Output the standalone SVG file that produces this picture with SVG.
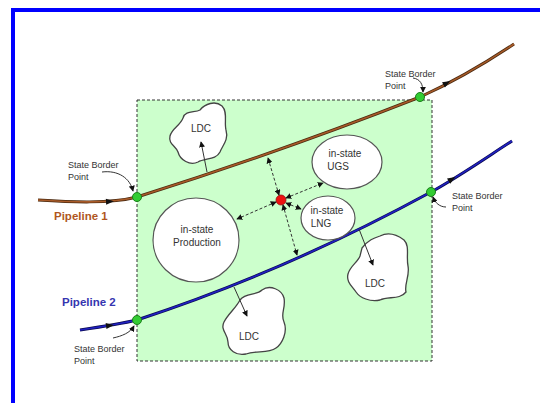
<svg xmlns="http://www.w3.org/2000/svg" width="540" height="403" viewBox="0 0 540 403">
<style>
.lbl{font-family:"Liberation Sans",Arial,sans-serif;font-size:9px;fill:#333}
.in{font-family:"Liberation Sans",Arial,sans-serif;font-size:10px;fill:#333;text-anchor:middle}
.ldc{fill:#fff;stroke:#444;stroke-width:1.3}
.ell{fill:#fff;stroke:#555;stroke-width:1.2}
.dash{fill:none;stroke:#333;stroke-width:1;stroke-dasharray:3,2;marker-start:url(#ah);marker-end:url(#ah)}
.sol{fill:none;stroke:#333;stroke-width:1;marker-end:url(#ah)}
.dot{fill:#33cc33;stroke:#1a801a;stroke-width:1}
.pa{fill:#111}
</style>
<defs>
<marker id="ah" viewBox="0 0 8 8" refX="7" refY="4" markerWidth="6" markerHeight="6" orient="auto-start-reverse" markerUnits="userSpaceOnUse">
<path d="M0,0 L8,4 L0,8 Z" fill="#111"/>
</marker>
</defs>
<rect x="0" y="0" width="540" height="403" fill="#fff"/>
<rect x="13" y="10" width="600" height="500" fill="none" stroke="#0000ff" stroke-width="4"/>
<g id="state">
<rect x="137" y="100" width="295" height="261" fill="#ccffcc" stroke="#333" stroke-width="1" stroke-dasharray="3,2"/>
</g>
<g id="pipeline1">
<path d="M38,200 C70,202 110,204 137,197 Q280,152 420,97 C460,79 490,60 514,44" fill="none" stroke="#4a2a10" stroke-width="3"/>
<path d="M38,200 C70,202 110,204 137,197 Q280,152 420,97 C460,79 490,60 514,44" fill="none" stroke="#a85a28" stroke-width="1.6"/>
<polygon class="pa" points="-4,-3 4,0 -4,3" transform="translate(110,201.5) rotate(-3)"/>
<polygon class="pa" points="-4,-3 4,0 -4,3" transform="translate(447,83) rotate(-28)"/>
<text x="54" y="220" font-family="Liberation Sans,Arial,sans-serif" font-size="11.5" font-weight="bold" fill="#b0561e">Pipeline 1</text>
</g>
<g id="pipeline2">
<path d="M80,330 C100,327 120,324 137,320 Q284,272 431,192 C460,176 490,155 512,141" fill="none" stroke="#0a0a50" stroke-width="3"/>
<path d="M80,330 C100,327 120,324 137,320 Q284,272 431,192 C460,176 490,155 512,141" fill="none" stroke="#2020c0" stroke-width="1.6"/>
<polygon class="pa" points="-4,-3 4,0 -4,3" transform="translate(110,325.5) rotate(-8)"/>
<polygon class="pa" points="-4,-3 4,0 -4,3" transform="translate(452,179) rotate(-32)"/>
<text x="62" y="306" font-family="Liberation Sans,Arial,sans-serif" font-size="11.5" font-weight="bold" fill="#3535b0">Pipeline 2</text>
</g>
<g id="ldc1">
<path class="ldc" d="M183,118 C185,110 195,113 200,110 C205,104 215,100 222,106 C228,112 224,122 226,130 C229,140 222,146 220,152 C216,160 205,158 198,162 C190,166 180,160 178,152 C176,146 168,144 170,136 C172,128 180,126 183,118 Z"/>
<text class="in" x="201" y="132">LDC</text>
</g>
<g id="ldc2">
<path class="ldc" d="M362,248 C368,240 374,238 380,236 C388,232 396,234 404,240 C410,246 406,256 408,266 C410,276 404,284 406,292 C400,300 388,296 380,300 C370,302 360,298 356,292 C352,286 346,282 348,274 C350,266 358,262 360,256 Z"/>
<text class="in" x="375" y="287">LDC</text>
</g>
<g id="ldc3">
<path class="ldc" d="M240,300 C246,292 256,296 262,290 C270,284 282,290 284,298 C286,308 280,314 284,322 C288,332 282,344 276,348 C268,354 256,350 246,354 C236,356 228,350 228,342 C228,334 220,330 224,322 C228,314 236,308 240,300 Z"/>
<text class="in" x="249" y="340">LDC</text>
</g>
<g id="production">
<ellipse class="ell" cx="196" cy="240" rx="43" ry="42"/>
<text class="in" x="197" y="233">in-state</text>
<text class="in" x="197" y="246">Production</text>
</g>
<g id="ugs">
<ellipse class="ell" cx="347" cy="162" rx="35" ry="27"/>
<text class="in" x="345" y="157">in-state</text>
<text class="in" x="338" y="170">UGS</text>
</g>
<g id="lng">
<ellipse class="ell" cx="328" cy="218" rx="27" ry="22"/>
<text class="in" x="327" y="214">in-state</text>
<text class="in" x="321" y="227">LNG</text>
</g>
<g id="hub">
<circle cx="281" cy="200" r="5" fill="#ee1111" stroke="#991111" stroke-width="0.8"/>
</g>
<g id="borders">
<circle class="dot" cx="137" cy="197" r="4.5"/>
<circle class="dot" cx="420" cy="97" r="4.5"/>
<circle class="dot" cx="431" cy="192" r="4.5"/>
<circle class="dot" cx="137" cy="320" r="4.5"/>
<text class="lbl" x="68" y="168">State Border</text>
<text class="lbl" x="68" y="180">Point</text>
<text class="lbl" x="385" y="77">State Border</text>
<text class="lbl" x="385" y="89">Point</text>
<text class="lbl" x="452" y="199">State Border</text>
<text class="lbl" x="452" y="211">Point</text>
<text class="lbl" x="74" y="352">State Border</text>
<text class="lbl" x="74" y="364">Point</text>
</g>
<g id="connectors">
<path class="dash" d="M279,195 L268,158"/>
<path class="dash" d="M283,205 L297,255"/>
<path class="dash" d="M276,202 L237,219"/>
<path class="dash" d="M286,198 L323,183"/>
<path class="dash" d="M286,203 L301,209"/>
<path class="sol" d="M207,172 L201,142"/>
<path class="sol" d="M359,229 L373,265"/>
<path class="sol" d="M234,287 L247,316"/>
<path class="sol" d="M102,172 C118,170 130,178 133,191"/>
<path class="sol" d="M413,78 C420,79 423,84 423,92"/>
<path class="sol" d="M446,207 C440,207 435,203 433,197"/>
<path class="sol" d="M113,338 C122,336 130,333 134,326"/>
</g>
</svg>
